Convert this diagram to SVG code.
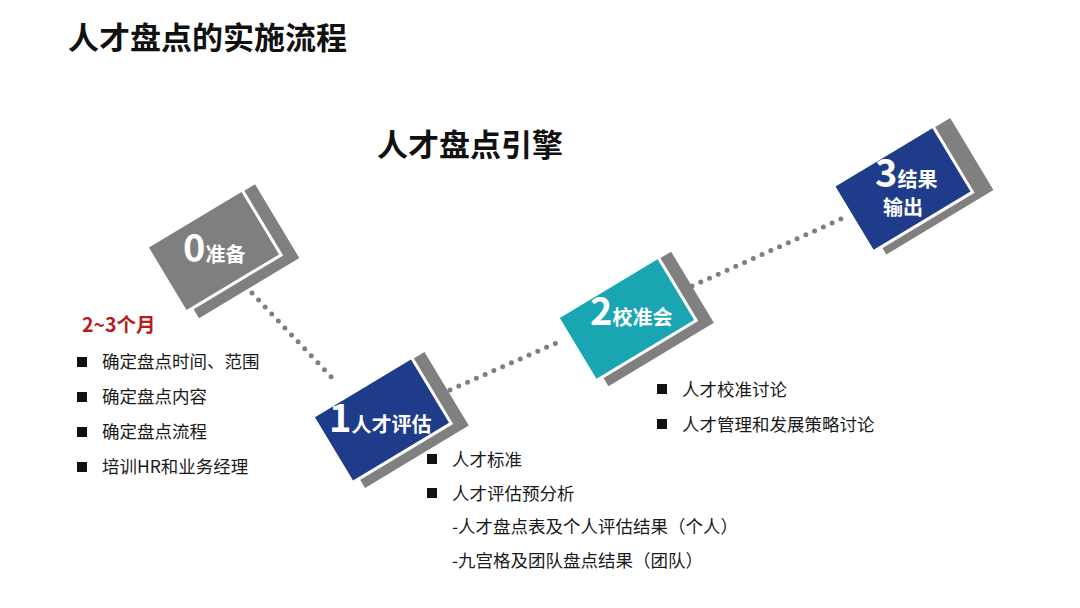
<svg xmlns="http://www.w3.org/2000/svg" width="1080" height="608" viewBox="0 0 1080 608">
<style>
text{font-family:"Noto Sans CJK SC","Noto Sans",sans-serif;}
.title{font-size:31px;font-weight:bold;fill:#111;}
.nt{font-weight:bold;fill:#fff;}
.big{font-size:38px;}
.sm{font-size:20px;}
.li{font-size:17.5px;fill:#1a1a1a;}
.sq{fill:#111;}
.shadow{fill:#808080;}
.front{stroke:#fff;stroke-width:3;}
.dots{fill:none;stroke:#7f7f7f;stroke-width:5;stroke-linecap:round;stroke-dasharray:0 9.6;}
</style>
<rect width="1080" height="608" fill="#fff"/>
<text class="title" x="68" y="49">人才盘点的实施流程</text>
<text class="title" x="377" y="156">人才盘点引擎</text>

<g id="connectors">
<line class="dots" x1="252" y1="293" x2="336" y2="382"/>
<line class="dots" x1="450" y1="390" x2="563" y2="340"/>
<line class="dots" x1="692" y1="286" x2="841" y2="219"/>
</g>

<g id="node0">
<g transform="translate(214,251) rotate(-31)">
<rect class="shadow" x="-47.5" y="-36" width="117" height="86"/>
<rect class="front" x="-55.5" y="-38" width="111" height="76" fill="#7f7f7f"/>
</g>
<text class="nt" x="183" y="262"><tspan class="big">0</tspan><tspan class="sm">准备</tspan></text>
</g>

<g id="node1">
<g transform="translate(382,420) rotate(-31)">
<rect class="shadow" x="-49.5" y="-36.5" width="121" height="86"/>
<rect class="front" x="-57.5" y="-38.5" width="115" height="77" fill="#1f3c8a"/>
</g>
<text class="nt" x="329" y="432"><tspan class="big">1</tspan><tspan class="sm">人才评估</tspan></text>
</g>

<g id="node2">
<g transform="translate(627,319) rotate(-31)">
<rect class="shadow" x="-50.5" y="-35" width="123" height="83"/>
<rect class="front" x="-58.5" y="-37" width="117" height="74" fill="#1aa5b2"/>
</g>
<text class="nt" x="590" y="325"><tspan class="big">2</tspan><tspan class="sm">校准会</tspan></text>
</g>

<g id="node3">
<g transform="translate(903,189) rotate(-31)">
<rect class="shadow" x="-48" y="-36.5" width="125" height="84"/>
<rect class="front" x="-58" y="-38.5" width="116" height="77" fill="#1f3c8a"/>
</g>
<text class="nt" x="875" y="187"><tspan class="big">3</tspan><tspan class="sm">结果</tspan></text>
<text class="nt sm" x="883" y="215">输出</text>
</g>

<g id="list0">
<text x="82" y="332" font-size="19.5" font-weight="bold" fill="#b81c1c">2~3个月</text>
<rect class="sq" x="77" y="357" width="10" height="10"/>
<text class="li" x="102" y="368">确定盘点时间、范围</text>
<rect class="sq" x="77" y="392" width="10" height="10"/>
<text class="li" x="102" y="403">确定盘点内容</text>
<rect class="sq" x="77" y="427" width="10" height="10"/>
<text class="li" x="102" y="438">确定盘点流程</text>
<rect class="sq" x="77" y="462" width="10" height="10"/>
<text class="li" x="102" y="473">培训HR和业务经理</text>
</g>

<g id="list1">
<rect class="sq" x="427" y="454" width="10" height="10"/>
<text class="li" x="452" y="466">人才标准</text>
<rect class="sq" x="427" y="488" width="10" height="10"/>
<text class="li" x="452" y="500">人才评估预分析</text>
<text class="li" x="452" y="533" font-size="16.5">-人才盘点表及个人评估结果（个人）</text>
<text class="li" x="452" y="567" font-size="16.5">-九宫格及团队盘点结果（团队）</text>
</g>

<g id="list2">
<rect class="sq" x="657" y="384" width="10" height="10"/>
<text class="li" x="682" y="396">人才校准讨论</text>
<rect class="sq" x="657" y="419" width="10" height="10"/>
<text class="li" x="682" y="431">人才管理和发展策略讨论</text>
</g>
</svg>
